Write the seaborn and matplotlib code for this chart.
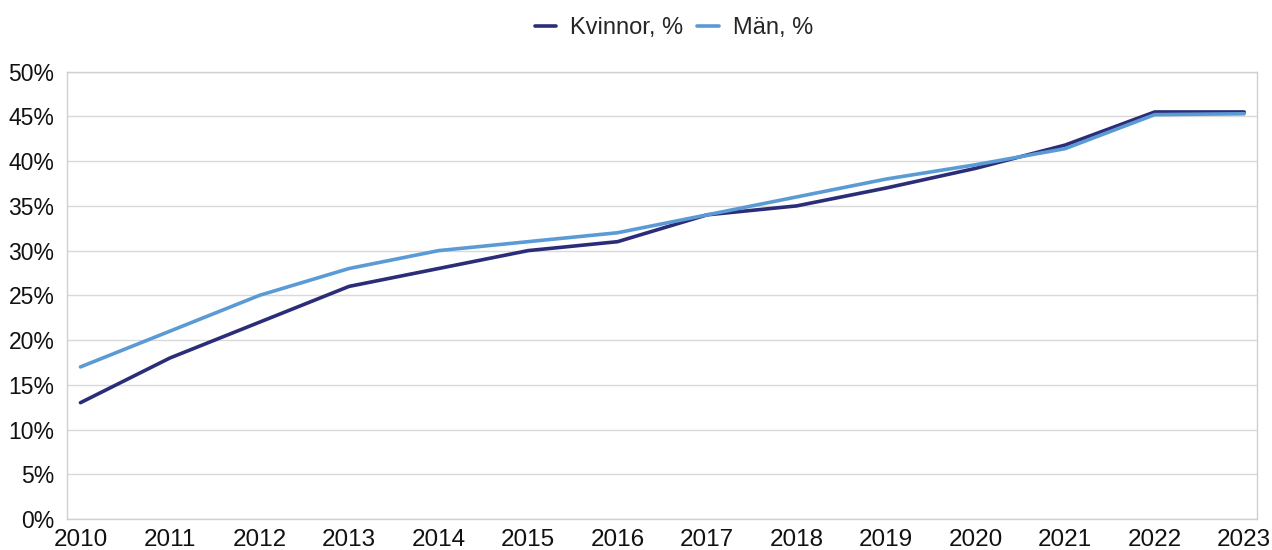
import numpy as np
import pandas as pd
import matplotlib.pyplot as plt
import seaborn as sns
from matplotlib.ticker import PercentFormatter

years = list(range(2010, 2024))
kvinnor = [13, 18, 22, 26, 28, 30, 31, 34, 35, 37, 39.2, 41.8, 45.5, 45.5]
man = [17, 21, 25, 28, 30, 31, 32, 34, 36, 38, 39.6, 41.4, 45.2, 45.3]
series_names = ["Kvinnor, %", "Män, %"]
colors = ["#2B2D78", "#5B9BD5"]

df = pd.DataFrame({
    "year": years * 2,
    "value": kvinnor + man,
    "serie": [series_names[0]] * len(years) + [series_names[1]] * len(years),
})

sns.set_style("white")
plt.rcParams["font.family"] = ["Liberation Sans", "DejaVu Sans"]

fig = plt.figure(figsize=(12.72, 5.5), dpi=100)
ax = fig.add_axes([0.0527, 0.0564, 0.9353, 0.8132])

sns.lineplot(data=df, x="year", y="value", hue="serie", palette=colors,
             linewidth=2.6, ax=ax)

ax.set_xlim(2009.85, 2023.14)
ax.set_ylim(0, 50)
ax.set_xticks(years)
ax.set_yticks(np.arange(0, 51, 5))
ax.yaxis.set_major_formatter(PercentFormatter(decimals=0))
ax.grid(axis="y", color="#d9d9d9", linewidth=1)
ax.set_axisbelow(True)
for s in ax.spines.values():
    s.set_color("#d0d0d0")
    s.set_linewidth(1)
ax.tick_params(axis="x", length=0, labelsize=17.5, colors="#111111", pad=7)
ax.tick_params(axis="y", length=0, labelsize=16.5, colors="#111111", pad=9)
ax.set_xlabel("")
ax.set_ylabel("")

sns.move_legend(ax, "upper center", bbox_to_anchor=(0.51, 1.17), ncol=2,
                frameon=False, title=None, fontsize=17, handlelength=0.9,
                handletextpad=0.6, columnspacing=0.6)

fig.savefig("out.png", dpi=100)
